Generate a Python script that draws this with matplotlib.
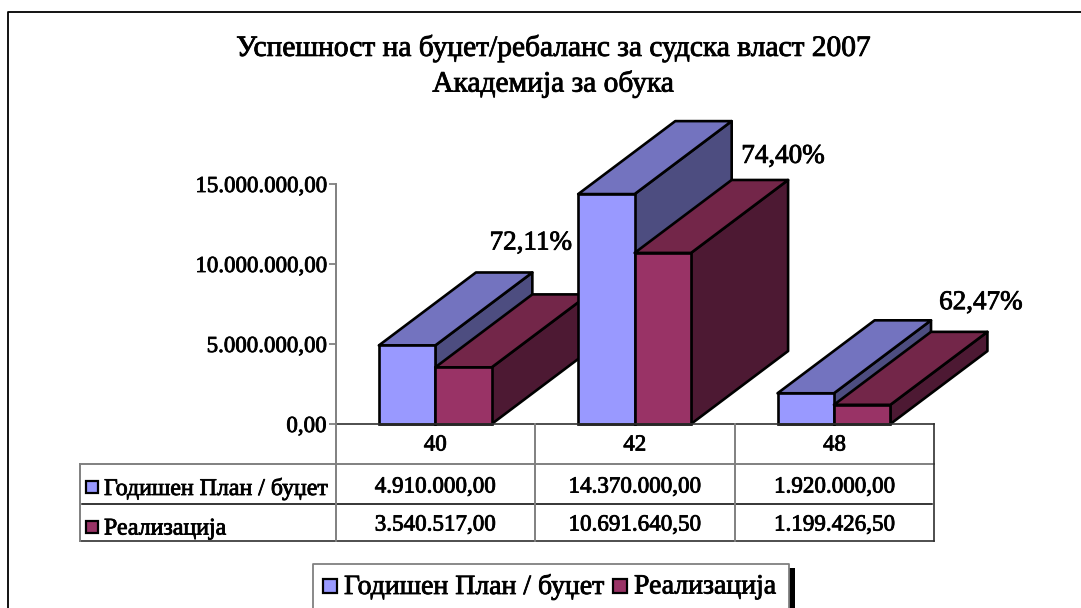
"""Budget execution chart for the judiciary academy, faked 3D bars with a data table."""

import matplotlib

matplotlib.use("Agg")
import matplotlib.patheffects as pe
import matplotlib.pyplot as plt
from matplotlib.patches import Polygon, Rectangle

plt.rcParams["font.family"] = ["Liberation Serif", "DejaVu Serif"]

CATEGORIES = ["40", "42", "48"]
PLAN = [4910000.00, 14370000.00, 1920000.00]
ACTUAL = [3540517.00, 10691640.50, 1199426.50]
PLAN_LABELS = ["4.910.000,00", "14.370.000,00", "1.920.000,00"]
ACTUAL_LABELS = ["3.540.517,00", "10.691.640,50", "1.199.426,50"]
PERCENT_LABELS = ["72,11%", "74,40%", "62,47%"]
Y_TICKS = [0, 5000000, 10000000, 15000000]
Y_TICK_LABELS = ["0,00", "5.000.000,00", "10.000.000,00", "15.000.000,00"]
SERIES = ["Годишен План / буџет", "Реализација"]
TITLE = "Успешност на буџет/ребаланс за судска власт 2007\nАкадемија за обука"

W, H = 1081, 608
BLUE = ("#9999ff", "#7373bf", "#4d4d80")  # front, top, side
RED = ("#993366", "#732649", "#4d1933")
GRAY = "#808080"
DARK = "#303030"

# depth of the fake 3D in data units
DX = 0.487
DY = 4560000
BAR_W = 0.283

# percent label offset from the back corner of the red box, in points
PCT_OFFSET = [(-42, 37), (-4, 17), (-5, 21)]

# makes the text a bit heavier, the original is a blurry screen grab
HEAVY = [pe.withStroke(linewidth=0.6, foreground="black")]


def px(x, y):
    return x / W, 1 - y / H


def hline(fig, x0, x1, y, color=DARK, lw=1.2):
    fig.add_artist(plt.Line2D([x0 / W, x1 / W], [1 - y / H] * 2, color=color, lw=lw))


def vline(fig, x, y0, y1, color=GRAY, lw=1.4):
    fig.add_artist(plt.Line2D([x / W, x / W], [1 - y0 / H, 1 - y1 / H], color=color, lw=lw))


def label(fig, x, y, s, size, ha="center"):
    fig.text(*px(x, y), s, fontsize=size, ha=ha, va="center", path_effects=HEAVY)


def box3d(ax, x0, x1, v, cols, z):
    ec = dict(edgecolor="black", linewidth=1.9, joinstyle="round", clip_on=False, zorder=z)
    ax.add_patch(Polygon([(x1, 0), (x1 + DX, DY), (x1 + DX, v + DY), (x1, v)], facecolor=cols[2], **ec))
    ax.add_patch(Polygon([(x0, v), (x0 + DX, v + DY), (x1 + DX, v + DY), (x1, v)], facecolor=cols[1], **ec))
    ax.bar(x0, v, width=x1 - x0, align="edge", color=cols[0], edgecolor="black",
           linewidth=1.9, clip_on=False, zorder=z + 0.1)


def main():
    fig = plt.figure(figsize=(W / 100, H / 100), dpi=100, facecolor="white")

    # page frame, runs off the image at the right and the bottom
    fig.add_artist(plt.Line2D([8 / W, 8 / W, 1], [0, 1 - 12 / H, 1 - 12 / H], color="black", linewidth=1.3))

    ax = fig.add_axes((336 / W, 1 - 424 / H, 598 / W, 240 / H))
    ax.set_xlim(0, 3)
    ax.set_ylim(0, 15000000)
    ax.patch.set_visible(False)
    for s in ["top", "right", "bottom"]:
        ax.spines[s].set_visible(False)
    ax.spines["left"].set_color(GRAY)
    ax.spines["left"].set_linewidth(1.4)
    ax.set_xticks([])
    ax.set_yticks(Y_TICKS)
    ax.set_yticklabels(Y_TICK_LABELS, fontsize=16.5, path_effects=HEAVY)
    ax.tick_params(axis="y", length=5, width=1.3, color=GRAY, pad=2)

    for i in range(len(CATEGORIES)):
        c = i + 0.498
        z = 3 + i
        box3d(ax, c - BAR_W, c, PLAN[i], BLUE, z)
        box3d(ax, c, c + BAR_W, ACTUAL[i], RED, z + 0.5)

    for i, lab in enumerate(PERCENT_LABELS):
        ax.annotate(lab, (i + 0.5 + BAR_W + DX, ACTUAL[i] + DY), xytext=PCT_OFFSET[i],
                    textcoords="offset points", fontsize=19.5, ha="center", va="center",
                    zorder=20, annotation_clip=False, path_effects=HEAVY)

    fig.text(*px(553, 66), TITLE, fontsize=21.2, ha="center", va="center", linespacing=1.38,
             path_effects=HEAVY)

    # data table below the bars
    tx = [336, 534.5, 735, 934]
    left = 80
    hline(fig, 336, 934, 424)
    hline(fig, left, 934, 464, color=GRAY, lw=1.4)
    hline(fig, left, 934, 541)
    hline(fig, 82, 932, 504, color="black", lw=1.1)
    vline(fig, left, 464, 541)
    vline(fig, 934, 424, 541, color=DARK, lw=1.2)
    for x in tx[:3]:
        vline(fig, x, 424, 541)

    for i in range(3):
        cx = (tx[i] + tx[i + 1]) / 2
        label(fig, cx, 445, CATEGORIES[i], 16.5)
        label(fig, cx, 487, PLAN_LABELS[i], 16.6)
        label(fig, cx, 525, ACTUAL_LABELS[i], 16.6)

    for y, name, col in [(487, SERIES[0], BLUE[0]), (527, SERIES[1], RED[0])]:
        fig.add_artist(Rectangle(px(86, y + 6), 12 / W, 12 / H, transform=fig.transFigure,
                                 facecolor=col, edgecolor="black", linewidth=1.6))
        label(fig, 104, y + 2, name, 17.2, ha="left")

    # legend box with the black shadow on its right
    fig.add_artist(Rectangle(px(789, 608), 6 / W, 40 / H, transform=fig.transFigure,
                             facecolor="black", edgecolor="none"))
    fig.add_artist(plt.Line2D([313 / W, 313 / W, 789 / W, 789 / W], [0, 1 - 564 / H, 1 - 564 / H, 0],
                              color=GRAY, lw=1.3))
    for x, name, col in [(323, SERIES[0], BLUE[0]), (613, SERIES[1], RED[0])]:
        fig.add_artist(Rectangle(px(x, 593), 14 / W, 14 / H, transform=fig.transFigure,
                                 facecolor=col, edgecolor="black", linewidth=1.6))
        label(fig, x + 21, 587, name, 20, ha="left")

    fig.savefig("out.png", dpi=100)
    plt.close(fig)


if __name__ == "__main__":
    main()
